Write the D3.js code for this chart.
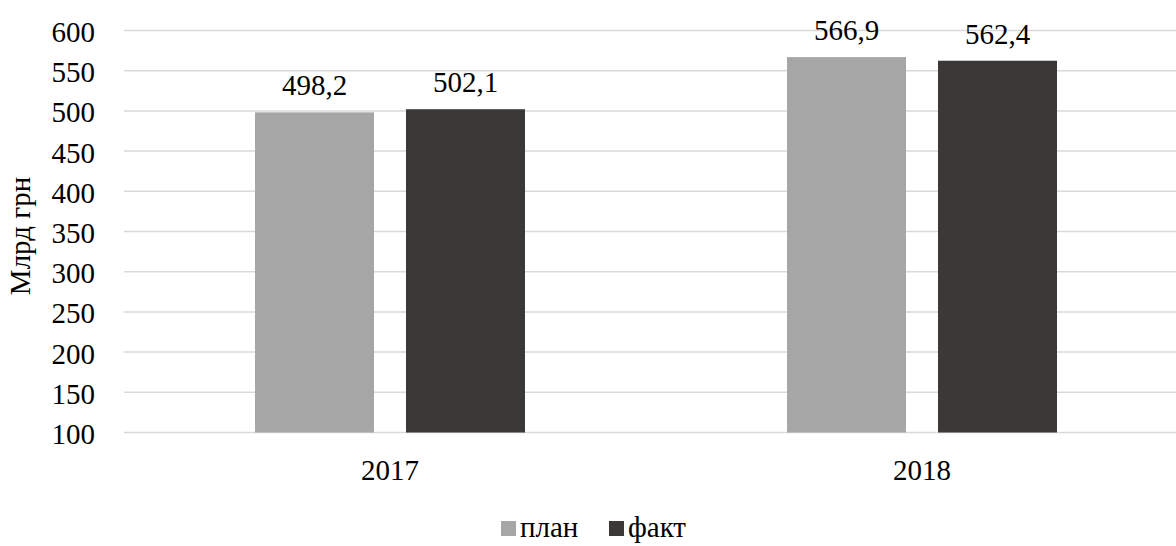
<!DOCTYPE html>
<html><head><meta charset="utf-8">
<script src="https://cdn.jsdelivr.net/npm/d3@7"></script>
</head><body style="margin:0">
<svg id="c" width="1176" height="546"></svg>
<script>
const categories = ["2017", "2018"];
const seriesNames = ["план", "факт"];
const planValues = [498.2, 566.9];
const factValues = [502.1, 562.4];
const valueLabels = [["498,2", "502,1"], ["566,9", "562,4"]];
const yTicks = [100, 150, 200, 250, 300, 350, 400, 450, 500, 550, 600];
const colors = ["#a6a6a6", "#3b3937"];

(function () {
const svg = d3.select("#c");
const pLeft = 124, pRight = 1188, pTop = 30.5, pBottom = 432.5;
const fs = 29;
const ff = "'Liberation Serif'";
const serif = sel => sel.attr("font-family", ff).style("font-family", ff, "important");

const y = d3.scaleLinear().domain([100, 600]).range([pBottom, pTop]);
const x0 = d3.scaleBand().domain(categories).range([pLeft, pRight]);
const x1 = d3.scaleBand().domain(seriesNames).range([131, 532 - 131]).paddingInner(32 / 151);

// gridlines
svg.append("g").selectAll("line").data(yTicks).join("line")
  .attr("x1", pLeft).attr("x2", 1176)
  .attr("y1", d => y(d)).attr("y2", d => y(d))
  .attr("stroke", "#d9d9d9").attr("stroke-width", 1.5);

// y axis labels
const yAxis = d3.axisLeft(y).tickValues(yTicks).tickSize(0).tickPadding(0);
const ya = svg.append("g").attr("transform", `translate(95,0)`).call(yAxis);
serif(ya).attr("font-size", fs);
ya.select(".domain").remove();
serif(ya.selectAll("text")).attr("fill", "#000").attr("dy", "0.38em").attr("font-size", fs);

// bars
const data = categories.map((c, i) => ({c, vals: [planValues[i], factValues[i]], labels: valueLabels[i]}));
const g = svg.append("g").selectAll("g").data(data).join("g")
  .attr("transform", d => `translate(${x0(d.c)},0)`);
g.selectAll("rect").data(d => d.vals.map((v, j) => ({s: seriesNames[j], v, j}))).join("rect")
  .attr("x", d => x1(d.s)).attr("width", x1.bandwidth())
  .attr("y", d => y(d.v)).attr("height", d => y(100) - y(d.v))
  .attr("fill", d => colors[d.j]);
serif(g.selectAll("text.v").data(d => d.vals.map((v, j) => ({s: seriesNames[j], v, j, l: d.labels[j]}))).join("text"))
  .attr("class", "v")
  .attr("x", d => x1(d.s) + x1.bandwidth() / 2)
  .attr("y", d => y(d.v) - 17)
  .attr("text-anchor", "middle").attr("font-size", fs).attr("fill", "#000")
  .text(d => d.l);

// x axis labels
const xAxis = d3.axisBottom(x0).tickSize(0).tickPadding(0);
const xa = svg.append("g").attr("transform", `translate(0,${pBottom})`).call(xAxis);
serif(xa).attr("font-size", fs);
xa.select(".domain").remove();
serif(xa.selectAll("text")).attr("fill", "#000").attr("dy", 0).attr("y", 47).attr("font-size", fs);

// y title
serif(svg.append("text")).attr("transform", "translate(30,236) rotate(-90)")
  .attr("text-anchor", "middle").attr("font-size", fs).attr("fill", "#000").text("Млрд грн");

// legend
const legendX = [501, 609];
const lg = svg.append("g").selectAll("g").data(seriesNames).join("g")
  .attr("transform", (d, i) => `translate(${legendX[i]},0)`);
lg.append("rect").attr("x", 0).attr("y", 521).attr("width", 15).attr("height", 15)
  .attr("fill", (d, i) => colors[i]);
serif(lg.append("text")).attr("x", 19).attr("y", 537).attr("font-size", fs).attr("fill", "#000").text(d => d);
})();
</script>
</body></html>
